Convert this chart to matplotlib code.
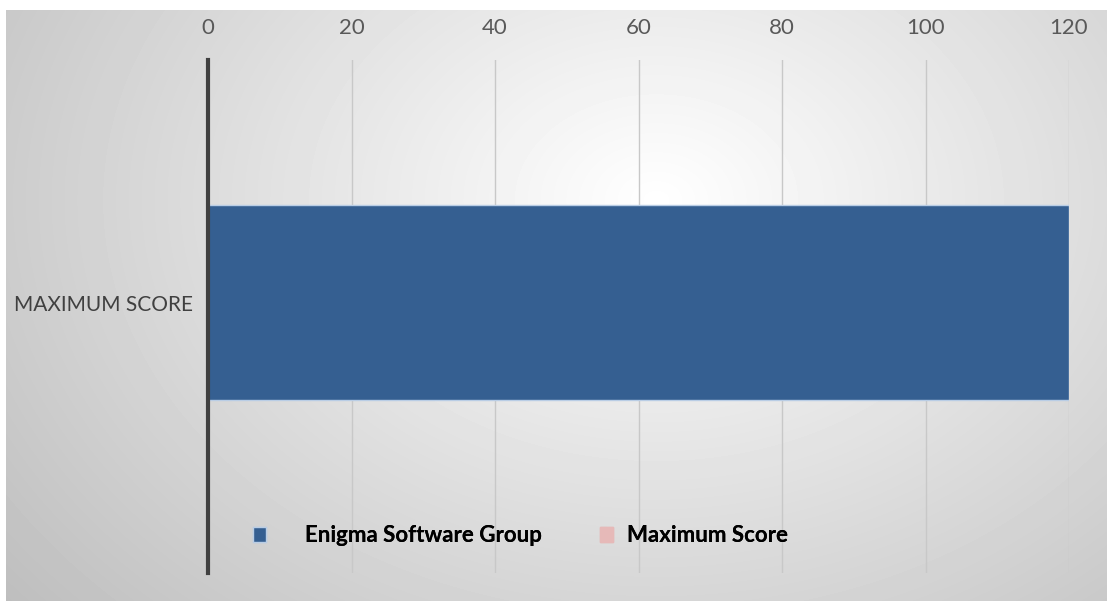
import matplotlib.pyplot as plt
import numpy as np
from matplotlib.patches import Patch

categories = ["MAXIMUM SCORE"]
enigma = [120]
max_score = [120]
series_names = ["Enigma Software Group", "Maximum Score"]
ticks = [0, 20, 40, 60, 80, 100, 120]

W, H = 1107, 601
fig = plt.figure(figsize=(W / 100, H / 100), dpi=100)
fig.patch.set_facecolor("white")

# gray radial background (chart area)
bg = fig.add_axes([6 / W, 0, 1 - 6 / W, 1 - 10 / H])
bg.set_axis_off()
yy, xx = np.mgrid[0:591, 0:1101]
r = np.sqrt(((xx - 650) / 560.0) ** 2 + ((yy - 190) / 420.0) ** 2)
shade = np.clip(1.0 - 0.17 * r, 0, 1)
bg.imshow(shade, cmap="gray", vmin=0, vmax=1, aspect="auto",
          extent=[0, 1, 0, 1], origin="upper")
bg.set_xlim(0, 1)
bg.set_ylim(0, 1)

ax = fig.add_axes([208 / W, 1 - 573 / H, (1069 - 208) / W, (573 - 60) / H])
ax.patch.set_alpha(0)

y = np.arange(len(categories))
ax.barh(y, max_score, height=0.38, color="#E6B9B8", zorder=2)
ax.barh(y, enigma, height=0.38, color="#355F91", edgecolor="#B9CDE5",
        linewidth=1, zorder=3)

ax.set_xlim(0, 120)
ax.set_ylim(-0.527, 0.473)
ax.set_xticks(ticks)
ax.xaxis.tick_top()
ax.tick_params(axis="x", length=0, pad=15.5, labelsize=16, labelcolor="#595959")
ax.set_yticks(y)
ax.set_yticklabels(categories)
ax.tick_params(axis="y", length=0, pad=11, labelsize=15, labelcolor="#404040")
for lab in ax.get_xticklabels() + ax.get_yticklabels():
    lab.set_family("Lato")
ax.grid(axis="x", color="#C8C8C8", linewidth=1, zorder=0)
ax.set_axisbelow(True)
for s in ["top", "right", "bottom"]:
    ax.spines[s].set_visible(False)
ax.spines["left"].set_color("#404040")
ax.spines["left"].set_linewidth(3)
ax.spines["left"].set_zorder(4)

# legend: two entries, spaced like the original
leg_font = {"family": "Lato", "weight": "bold", "size": 16}
entries = [
    (Patch(facecolor="#355F91", edgecolor="#B9CDE5"), series_names[0], 253, 1.75),
    (Patch(facecolor="#E6B9B8", edgecolor="#E6B9B8"), series_names[1], 600, 0.63),
]
for handle, name, xpix, pad in entries:
    lg = fig.legend([handle], [name], loc="center left",
                    bbox_to_anchor=(xpix / W, 1 - 536 / H), frameon=False,
                    borderpad=0, borderaxespad=0,
                    handlelength=0.59, handleheight=0.63, handletextpad=pad,
                    prop=leg_font)
    fig.add_artist(lg)

fig.savefig("out.png", dpi=100)
